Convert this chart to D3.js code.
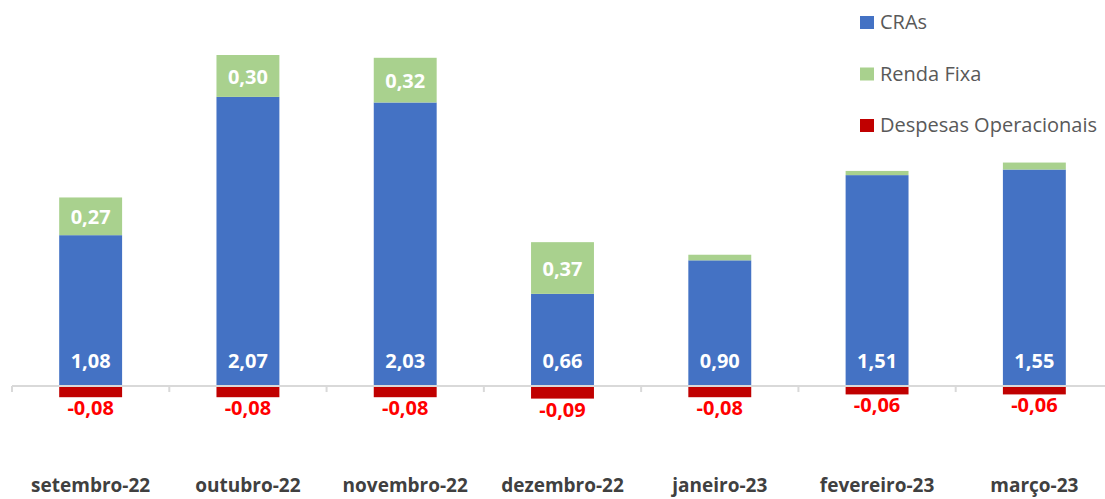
<!DOCTYPE html>
<meta charset="utf-8">
<script src="https://d3js.org/d3.v7.min.js"></script>
<style>
  body { margin: 0; background: #fff; }
  svg text { font-family: "Open Sans", sans-serif; }
</style>
<div id="chart"></div>
<script>
// chart values
var months = ["setembro-22", "outubro-22", "novembro-22", "dezembro-22", "janeiro-23", "fevereiro-23", "março-23"];
var cras = [1.08, 2.07, 2.03, 0.66, 0.90, 1.51, 1.55];
var rendaFixa = [0.27, 0.30, 0.32, 0.37, 0.04, 0.03, 0.05];
var despesas = [-0.08, -0.08, -0.08, -0.09, -0.08, -0.06, -0.06];
var seriesNames = ["CRAs", "Renda Fixa", "Despesas Operacionais"];
var colors = ["#4472C4", "#A9D18E", "#C00000"];

var W = 1105, H = 499;
var svg = d3.select("#chart").append("svg")
    .attr("width", W).attr("height", H);

// comma decimals, plain hyphen for negatives
var fmt = function(v) { return (v < 0 ? "-" : "") + Math.abs(v).toFixed(2).replace(".", ","); };

var x = d3.scaleBand().domain(months).range([12, 1113]).paddingInner(0.6).paddingOuter(0.3);
var y = d3.scaleLinear().domain([-0.1, 2.37]).range([400, 55]);

// bars
var g = svg.append("g");
months.forEach(function(m, i) {
  var bx = x(m), bw = x.bandwidth();
  g.append("rect").attr("x", bx).attr("width", bw)
    .attr("y", y(cras[i])).attr("height", y(0) - y(cras[i]))
    .attr("fill", colors[0]);
  g.append("rect").attr("x", bx).attr("width", bw)
    .attr("y", y(cras[i] + rendaFixa[i])).attr("height", y(cras[i]) - y(cras[i] + rendaFixa[i]))
    .attr("fill", colors[1]);
  g.append("rect").attr("x", bx).attr("width", bw)
    .attr("y", y(0)).attr("height", y(despesas[i]) - y(0))
    .attr("fill", colors[2]);

  // labels
  g.append("text").attr("x", bx + bw / 2).attr("y", y(0) - 18)
    .attr("text-anchor", "middle").attr("font-size", 20).attr("font-weight", "bold")
    .attr("fill", "#fff").text(fmt(cras[i]));
  if (rendaFixa[i] > 0.1) {
    g.append("text").attr("x", bx + bw / 2)
      .attr("y", (y(cras[i]) + y(cras[i] + rendaFixa[i])) / 2 + 8)
      .attr("text-anchor", "middle").attr("font-size", 20).attr("font-weight", "bold")
      .attr("fill", "#fff").text(fmt(rendaFixa[i]));
  }
  g.append("text").attr("x", bx + bw / 2).attr("y", y(despesas[i]) + 18)
    .attr("text-anchor", "middle").attr("font-size", 20).attr("font-weight", "bold")
    .attr("fill", "#FF0000").text(fmt(despesas[i]));
});

// x axis line with ticks between categories
var step = x.step();
var ax = svg.append("g");
ax.append("line").attr("x1", 12).attr("x2", W).attr("y1", y(0)).attr("y2", y(0))
  .attr("stroke", "#D9D9D9").attr("stroke-width", 2);
d3.range(months.length + 1).forEach(function(k) {
  var tx = 12 + k * step;
  ax.append("line").attr("x1", tx).attr("x2", tx).attr("y1", y(0)).attr("y2", y(0) + 6)
    .attr("stroke", "#D9D9D9").attr("stroke-width", 2);
});
months.forEach(function(m) {
  ax.append("text").attr("x", x(m) + x.bandwidth() / 2).attr("y", 492)
    .attr("text-anchor", "middle").attr("font-size", 19).attr("font-weight", "bold")
    .attr("fill", "#404040").text(m);
});

// legend
var leg = svg.append("g").attr("transform", "translate(860,0)");
seriesNames.forEach(function(s, i) {
  var base = 29 + i * 51.5;
  leg.append("rect").attr("x", 0).attr("y", base - 13).attr("width", 14).attr("height", 13)
    .attr("fill", colors[i]);
  leg.append("text").attr("x", 20).attr("y", base).attr("font-size", 20)
    .attr("fill", "#595959").text(s);
});
</script>
